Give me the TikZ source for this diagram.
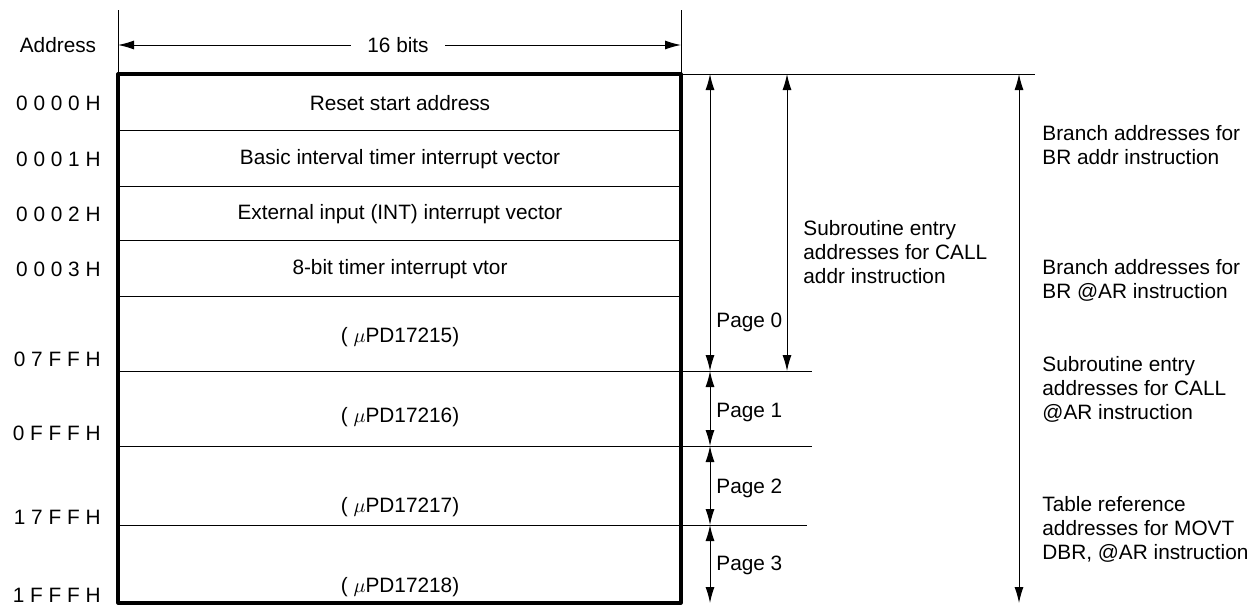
\documentclass[tikz,border=0pt]{standalone}
\usepackage{fontspec}
\setmainfont{Liberation Sans}
\usetikzlibrary{arrows.meta}
\begin{document}
\begin{tikzpicture}[x=0.5pt,y=-0.5pt,>={Latex[length=8pt,width=4.5pt]},line join=round,
	font=\fontsize{10.4}{12}\selectfont,thinline/.style={line width=0.5pt},
	addr/.style={anchor=east,inner sep=0pt},note/.style={anchor=west,align=left,inner sep=0pt}]
	\useasboundingbox (0,0) rectangle (1256,605);
	\draw[thinline] (118,10)--(118,74) (681,10)--(681,74);
	\coordinate (wl) at (118,45);
	\coordinate (wr) at (681,45);
	\node (adr) at (58,45) {Address};
	\node[inner xsep=8pt] (bits) at (398,45) {16 bits};
	\draw[thinline,->] (bits.west)--(wl);
	\draw[thinline,->] (bits.east)--(wr);
	\foreach \y in {130,186,240,296}
	\draw[thinline] (120,\y)--(679,\y);
	\foreach \y/\e in {371/812,446/812,525/807}
	\draw[thinline] (120,\y)--(\e,\y);
	\draw[thinline] (681,74)--(1035,74);
	\draw[line width=1.6pt] (118,74) rectangle (681,603);
	\foreach \i/\y/\t in {1/103/Reset start address,2/159/Basic interval timer interrupt vector,
		3/214/External input (INT) interrupt vector,4/269/8-bit timer interrupt vtor,
		5/337/( $\mu$PD17215),6/417/( $\mu$PD17216),7/507/( $\mu$PD17217),8/587/( $\mu$PD17218)}
	\node (c\i) at (400,\y) {\t};
	\foreach \i/\y/\t in {1/103/0 0 0 0 H,2/159/0 0 0 1 H,3/214/0 0 0 2 H,4/269/0 0 0 3 H,
		5/359/0 7 F F H,6/433/0 F F F H,7/517/1 7 F F H,8/595/1 F F F H}
	\node[addr] (a\i) at (101,\y) {\t};
	\foreach \i/\y in {0/74,1/371,2/446,3/525,4/603}
	\coordinate (p\i) at (710,\y);
	\draw[thinline,<->] (p0)--(p1);
	\draw[thinline,<->] (p1)--(p2);
	\draw[thinline,<->] (p2)--(p3);
	\draw[thinline,<->] (p3)--(p4);
	\foreach \i/\y in {0/322,1/412,2/488,3/565}
	\node[note] (pg\i) at (716,\y) {Page \i};
	\coordinate (s0) at (787,74);
	\coordinate (s1) at (787,371);
	\draw[thinline,<->] (s0)--(s1);
	\coordinate (b0) at (1019,74);
	\coordinate (b1) at (1019,603);
	\draw[thinline,<->] (b0)--(b1);
	\node[note] (sub) at (803,252) {Subroutine entry\\addresses for CALL\\addr instruction};
	\node[note] (br1) at (1042,145) {Branch addresses for\\BR addr instruction};
	\node[note] (br2) at (1042,280) {Branch addresses for\\BR @AR instruction};
	\node[note] (sub2) at (1042,389) {Subroutine entry\\addresses for CALL\\@AR instruction};
	\node[note] (tbl) at (1042,529) {Table reference\\addresses for MOVT\\DBR, @AR instruction};
\end{tikzpicture}
\end{document}
